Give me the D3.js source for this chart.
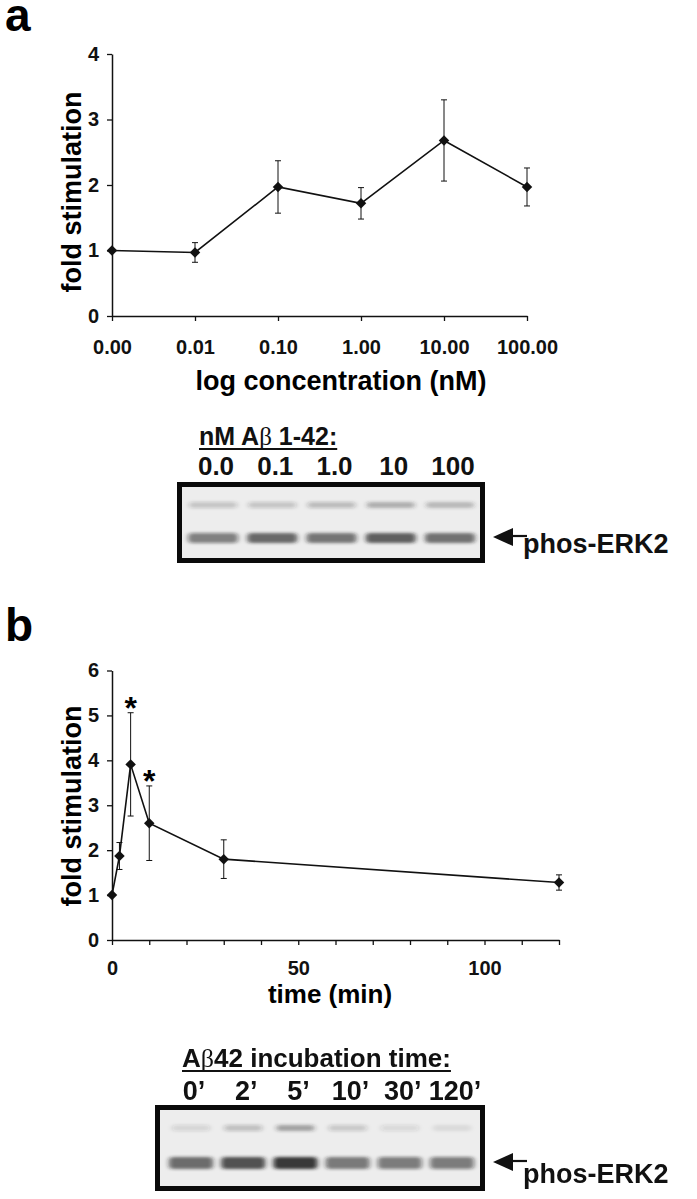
<!DOCTYPE html>
<html>
<head>
<meta charset="utf-8">
<script src="https://cdn.jsdelivr.net/npm/d3@7"></script>
<style>
  body { margin: 0; background: #fff; }
  svg { display: block; font-family: Arial, "Liberation Sans", sans-serif; font-weight: bold; }
</style>
</head>
<body>
<svg id="fig" width="697" height="1199"></svg>
<script>
// Panel a - dose response
const concLabels = ["0.00", "0.01", "0.10", "1.00", "10.00", "100.00"];
const concMean = [1.00, 0.97, 1.97, 1.72, 2.68, 1.97];
const concSem = [0, 0.15, 0.40, 0.24, 0.62, 0.29];
const concTicksY = [0, 1, 2, 3, 4];

// Panel b - time course
const timeMin = [0, 2, 5, 10, 30, 120];
const timeMean = [1.00, 1.87, 3.91, 2.60, 1.80, 1.28];
const timeSem = [0, 0.30, 1.15, 0.83, 0.43, 0.17];
const timeSig = ["", "", "*", "*", "", ""];
const timeTicksY = [0, 1, 2, 3, 4, 5, 6];
const timeTicksX = [0, 10, 20, 30, 40, 50, 60, 70, 80, 90, 100, 110, 120];
const timeTickLabels = [0, 50, 100];

// Blots (relative band darkness per lane)
const gelALanes = ["0.0", "0.1", "1.0", "10", "100"];
const gelAUpper = [0.20, 0.20, 0.24, 0.32, 0.28];
const gelALower = [0.50, 0.64, 0.58, 0.68, 0.60];
const gelBLanes = ["0’", "2’", "5’", "10’", "30’", "120’"];
const gelBUpper = [0.12, 0.22, 0.38, 0.18, 0.10, 0.08];
const gelBLower = [0.62, 0.74, 0.85, 0.56, 0.52, 0.52];

const svg = d3.select('#fig');

const defs = svg.append('defs');
defs.append('filter')
  .attr('id', 'blur')
  .attr('x', '-30%').attr('y', '-100%')
  .attr('width', '160%').attr('height', '300%')
  .append('feGaussianBlur')
  .attr('stdDeviation', '2.5 1.6');

function styleAxis(g, fontSize) {
  g.select('.domain').attr('stroke', '#111').attr('stroke-width', 1.5);
  g.selectAll('.tick line').attr('stroke', '#111').attr('stroke-width', 1.3);
  g.selectAll('.tick text')
    .attr('fill', '#111')
    .style('font-size', fontSize + 'px')
    .style('font-weight', 'bold')
    .style('font-family', 'Arial, "Liberation Sans", sans-serif');
}

function drawSeries(g, pts, x, y) {
  const line = d3.line().x(d => x(d.x)).y(d => y(d.m));

  const err = g.selectAll('.err')
    .data(pts.filter(d => d.s > 0))
    .enter()
    .append('g')
    .attr('class', 'err')
    .attr('stroke', '#111')
    .attr('stroke-width', 1);
  err.append('line')
    .attr('x1', d => x(d.x)).attr('x2', d => x(d.x))
    .attr('y1', d => y(d.m - d.s)).attr('y2', d => y(d.m + d.s));
  err.append('line')
    .attr('x1', d => x(d.x) - 3).attr('x2', d => x(d.x) + 3)
    .attr('y1', d => y(d.m + d.s)).attr('y2', d => y(d.m + d.s));
  err.append('line')
    .attr('x1', d => x(d.x) - 3).attr('x2', d => x(d.x) + 3)
    .attr('y1', d => y(d.m - d.s)).attr('y2', d => y(d.m - d.s));

  g.append('path')
    .datum(pts)
    .attr('d', line)
    .attr('fill', 'none')
    .attr('stroke', '#111')
    .attr('stroke-width', 1.6);

  g.selectAll('.pt')
    .data(pts)
    .enter()
    .append('path')
    .attr('class', 'pt')
    .attr('d', d3.symbol(d3.symbolSquare).size(55))
    .attr('transform', d => `translate(${x(d.x)},${y(d.m)}) rotate(45)`)
    .attr('fill', '#111');
}

function drawGel(cfg) {
  const g = svg.append('g');
  const lane = d3.scalePoint().domain(cfg.lanes).range(cfg.laneRange);

  g.append('rect')
    .attr('x', cfg.x0 + 2.5).attr('y', cfg.y0 + 2.5)
    .attr('width', cfg.x1 - cfg.x0 - 5).attr('height', cfg.y1 - cfg.y0 - 5)
    .attr('fill', '#ededed')
    .attr('stroke', '#0a0a0a')
    .attr('stroke-width', 5);

  const bands = g.append('g').attr('filter', 'url(#blur)');
  bands.selectAll('.up')
    .data(cfg.lanes)
    .enter()
    .append('rect')
    .attr('x', d => lane(d) - cfg.upW / 2)
    .attr('y', cfg.upY - cfg.upH / 2)
    .attr('width', cfg.upW).attr('height', cfg.upH)
    .attr('rx', 3)
    .attr('fill', '#2a2a2a')
    .attr('opacity', (d, i) => cfg.upper[i]);
  bands.selectAll('.low')
    .data(cfg.lanes)
    .enter()
    .append('rect')
    .attr('x', d => lane(d) - cfg.lowW / 2)
    .attr('y', cfg.lowY - cfg.lowH / 2)
    .attr('width', cfg.lowW).attr('height', cfg.lowH)
    .attr('rx', 4)
    .attr('fill', '#1a1a1a')
    .attr('opacity', (d, i) => cfg.lower[i]);

  // lane labels
  g.selectAll('.lane')
    .data(cfg.lanes)
    .enter()
    .append('text')
    .attr('x', d => lane(d) + cfg.labelShift)
    .attr('y', cfg.labelY)
    .attr('text-anchor', 'middle')
    .style('font-size', cfg.labelSize + 'px')
    .attr('fill', '#111')
    .text(d => d);

  // header with underline
  const head = g.append('text')
    .attr('x', cfg.headX)
    .attr('y', cfg.headY)
    .style('font-size', cfg.headSize + 'px')
    .attr('fill', '#111');
  cfg.head.forEach(part => {
    const t = head.append('tspan').text(part.t);
    if (part.greek) {
      t.style('font-family', '"Liberation Serif", "DejaVu Serif", serif').style('font-weight', 'normal');
    }
  });
  const bb = head.node().getBBox();
  g.append('line')
    .attr('x1', bb.x).attr('x2', bb.x + bb.width)
    .attr('y1', cfg.headY + 4).attr('y2', cfg.headY + 4)
    .attr('stroke', '#111').attr('stroke-width', 2);

  // arrow to phos-ERK2 band
  const ax = cfg.x1 + 8;
  const ay = cfg.lowY - 1;
  g.append('path')
    .attr('d', `M${ax},${ay} L${ax + 20},${ay - 9} L${ax + 20},${ay + 9} Z`)
    .attr('fill', '#111');
  g.append('line')
    .attr('x1', ax + 18).attr('x2', ax + 34)
    .attr('y1', ay - 1).attr('y2', ay - 1)
    .attr('stroke', '#111').attr('stroke-width', 2.2);
  g.append('text')
    .attr('x', ax + 30)
    .attr('y', ay + cfg.textDrop)
    .style('font-size', '27px')
    .attr('fill', '#111')
    .text('phos-ERK2');
}

// ---------- Panel a ----------
function renderPanelA() {
  const x = d3.scalePoint().domain(concLabels).range([112, 527]);
  const y = d3.scaleLinear().domain([0, 4]).range([316, 54]);
  const g = svg.append('g');

  g.append('text')
    .attr('x', 5).attr('y', 31)
    .style('font-size', '46px')
    .text('a');

  g.append('g')
    .attr('transform', 'translate(0,316)')
    .call(d3.axisBottom(x).tickSize(5).tickSizeOuter(0).tickPadding(19))
    .call(ax => styleAxis(ax, 20));

  g.append('g')
    .attr('transform', 'translate(112,0)')
    .call(d3.axisLeft(y).tickValues(concTicksY).tickFormat(d3.format('d')).tickSize(5).tickSizeOuter(0).tickPadding(8))
    .call(ax => styleAxis(ax, 20));

  const pts = concLabels.map((c, i) => ({ x: c, m: concMean[i], s: concSem[i] }));
  drawSeries(g, pts, x, y);

  g.append('text')
    .attr('transform', 'translate(81,192) rotate(-90)')
    .attr('text-anchor', 'middle')
    .style('font-size', '27px')
    .text('fold stimulation');

  g.append('text')
    .attr('x', 341).attr('y', 390)
    .attr('text-anchor', 'middle')
    .style('font-size', '27px')
    .text('log concentration (nM)');
}

// ---------- Panel b ----------
function renderPanelB() {
  const x = d3.scaleLinear().domain([0, 120]).range([112, 559]);
  const y = d3.scaleLinear().domain([0, 6]).range([940, 670.5]);
  const g = svg.append('g');

  g.append('text')
    .attr('x', 5).attr('y', 641)
    .style('font-size', '46px')
    .text('b');

  g.append('g')
    .attr('transform', 'translate(0,940)')
    .call(d3.axisBottom(x).tickValues(timeTicksX)
      .tickFormat(d => timeTickLabels.includes(d) ? d : '')
      .tickSize(5).tickSizeOuter(0).tickPadding(16))
    .call(ax => styleAxis(ax, 20));

  g.append('g')
    .attr('transform', 'translate(112,0)')
    .call(d3.axisLeft(y).tickValues(timeTicksY).tickFormat(d3.format('d')).tickSize(5).tickSizeOuter(0).tickPadding(8))
    .call(ax => styleAxis(ax, 20));

  const pts = timeMin.map((t, i) => ({ x: t, m: timeMean[i], s: timeSem[i], sig: timeSig[i] }));
  drawSeries(g, pts, x, y);

  g.selectAll('.sig')
    .data(pts.filter(d => d.sig))
    .enter()
    .append('text')
    .attr('x', d => x(d.x))
    .attr('y', d => y(d.m + d.s) + 6)
    .attr('text-anchor', 'middle')
    .style('font-size', '32px')
    .text(d => d.sig);

  g.append('text')
    .attr('transform', 'translate(81,806) rotate(-90)')
    .attr('text-anchor', 'middle')
    .style('font-size', '27px')
    .text('fold stimulation');

  g.append('text')
    .attr('x', 330).attr('y', 1003)
    .attr('text-anchor', 'middle')
    .style('font-size', '26px')
    .text('time (min)');
}

renderPanelA();
renderPanelB();

drawGel({
  lanes: gelALanes, upper: gelAUpper, lower: gelALower,
  x0: 177, x1: 485, y0: 482, y1: 563,
  laneRange: [213, 450],
  upY: 505, upW: 48, upH: 6,
  lowY: 538, lowW: 50, lowH: 10,
  labelY: 475, labelSize: 26, labelShift: 3,
  head: [{ t: 'nM A' }, { t: 'β', greek: true }, { t: ' 1-42:' }],
  headX: 199, headY: 445, headSize: 25,
  textDrop: 16
});

drawGel({
  lanes: gelBLanes, upper: gelBUpper, lower: gelBLower,
  x0: 155, x1: 485, y0: 1105, y1: 1191,
  laneRange: [191, 452],
  upY: 1128, upW: 38, upH: 6,
  lowY: 1163, lowW: 44, lowH: 12,
  labelY: 1100, labelSize: 27, labelShift: 3,
  head: [{ t: 'A' }, { t: 'β', greek: true }, { t: '42 incubation time:' }],
  headX: 182, headY: 1067, headSize: 26,
  textDrop: 21
});
</script>
</body>
</html>
